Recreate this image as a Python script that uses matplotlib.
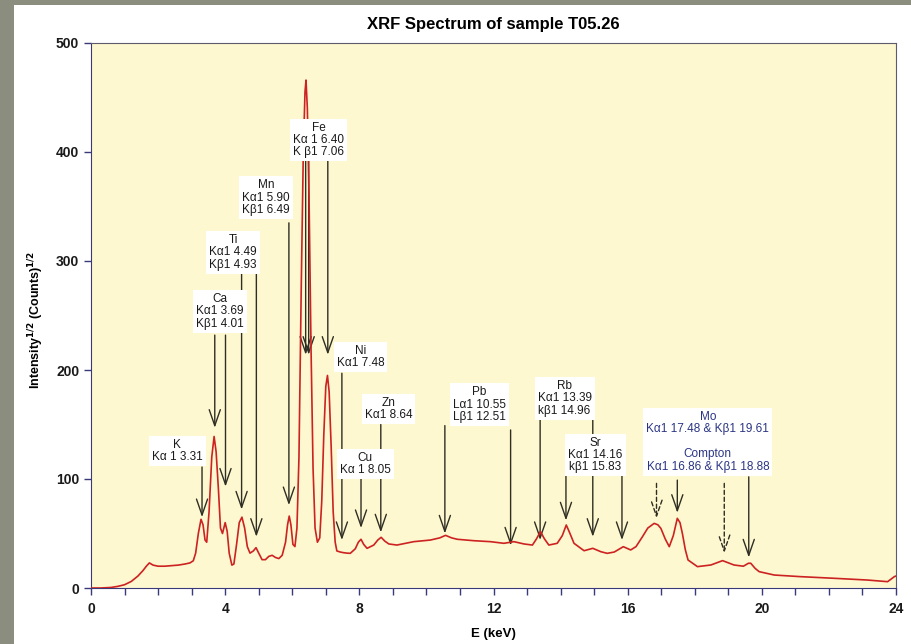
"""
XRF spectrum of sample T05.26 with the identified emission lines marked.
"""

import matplotlib
matplotlib.use("Agg")
import matplotlib.pyplot as plt
from matplotlib.patches import Rectangle


# =========================
# Spectrum (E in keV, sqrt of counts)
# =========================

energy_kev = [
    0.00, 0.30, 0.60, 0.80, 1.00, 1.20, 1.40, 1.55, 1.65, 1.74, 1.85, 2.00,
    2.20, 2.40, 2.60, 2.80, 2.95, 3.05, 3.12, 3.20, 3.28, 3.34, 3.40, 3.45,
    3.52, 3.60, 3.67, 3.73, 3.80, 3.86, 3.92, 4.00, 4.06, 4.12, 4.20, 4.26,
    4.34, 4.42, 4.50, 4.58, 4.66, 4.74, 4.84, 4.92, 5.00, 5.10, 5.20, 5.30,
    5.40, 5.50, 5.60, 5.70, 5.80, 5.86, 5.91, 5.96, 6.02, 6.08, 6.14, 6.20,
    6.27, 6.33, 6.38, 6.41, 6.45, 6.50, 6.56, 6.62, 6.68, 6.75, 6.82, 6.88,
    6.94, 7.00, 7.05, 7.10, 7.16, 7.22, 7.28, 7.33, 7.43, 7.53, 7.63, 7.73,
    7.88, 7.97, 8.05, 8.13, 8.23, 8.43, 8.55, 8.65, 8.76, 8.88, 9.12, 9.62,
    10.12, 10.40, 10.57, 10.75, 10.92, 11.41, 11.91, 12.31, 12.51, 12.61, 12.91, 13.16,
    13.28, 13.40, 13.52, 13.65, 13.90, 14.05, 14.17, 14.28, 14.40, 14.70, 14.96, 15.20,
    15.39, 15.60, 15.87, 16.09, 16.25, 16.44, 16.60, 16.79, 16.90, 16.99, 17.12, 17.24,
    17.36, 17.48, 17.56, 17.63, 17.72, 17.80, 18.08, 18.48, 18.83, 19.17, 19.45, 19.60,
    19.67, 19.80, 19.92, 20.37, 21.16, 22.16, 23.15, 23.75, 23.95, 24.00,
]

intensity = [
    0.0, 0.0, 0.5, 1.5, 3.0, 6.0, 11.0, 16.0, 20.0, 23.0, 21.0, 20.0,
    20.0, 20.5, 21.0, 22.0, 23.0, 25.0, 32.0, 50.0, 63.0, 58.0, 44.0, 42.0,
    70.0, 120.0, 139.0, 125.0, 90.0, 55.0, 50.0, 60.0, 52.0, 32.0, 21.0, 22.0,
    40.0, 60.0, 65.0, 55.0, 38.0, 32.0, 34.0, 37.0, 32.0, 26.0, 26.0, 29.0,
    30.0, 28.0, 27.0, 30.0, 42.0, 58.0, 66.0, 58.0, 40.0, 38.0, 55.0, 120.0,
    280.0, 400.0, 455.0, 466.0, 440.0, 360.0, 220.0, 110.0, 55.0, 42.0, 46.0, 80.0,
    140.0, 185.0, 195.0, 180.0, 130.0, 70.0, 42.0, 34.0, 33.0, 32.4, 32.0, 31.8,
    36.0, 42.0, 44.7, 40.0, 36.4, 39.4, 44.0, 46.5, 43.0, 40.4, 39.4, 42.5,
    44.0, 46.0, 48.3, 46.0, 44.7, 43.4, 42.5, 41.0, 42.0, 42.5, 40.4, 39.4,
    45.0, 51.7, 45.0, 39.4, 41.0, 48.0, 57.8, 50.0, 41.0, 34.2, 36.4, 33.3,
    31.8, 33.0, 37.9, 34.9, 38.0, 47.0, 55.0, 59.3, 58.0, 54.7, 45.0, 37.9,
    48.0, 63.9, 60.0, 50.2, 35.0, 25.7, 19.6, 21.1, 25.1, 21.1, 20.0, 22.7,
    22.7, 18.0, 15.0, 11.9, 10.4, 8.9, 7.3, 5.8, 10.4, 11.0,
]

# =========================
# Line labels: text, box centre (keV, intensity), text colour
# =========================

label_texts = [
    "K\nKα 1 3.31",
    "Ca\nKα1 3.69\nKβ1 4.01",
    "Ti\nKα1 4.49\nKβ1 4.93",
    "Mn\nKα1 5.90\nKβ1 6.49",
    "Fe\nKα 1 6.40\nK β1 7.06",
    "Ni\nKα1 7.48",
    "Zn\nKα1 8.64",
    "Cu\nKα 1 8.05",
    "Pb\nLα1 10.55\nLβ1 12.51",
    "Rb\nKα1 13.39\nkβ1 14.96",
    "Sr\nKα1 14.16\nkβ1 15.83",
    "Mo\nKα1 17.48 & Kβ1 19.61\n\nCompton\nKα1 16.86 & Kβ1 18.88",
]
label_x = [2.57, 3.85, 4.24, 5.22, 6.78, 8.03, 8.87, 8.18, 11.58, 14.12, 15.04, 18.39]
label_y = [125.7, 254, 308, 358, 411, 212, 164, 114, 168, 174, 122, 134]
label_colors = ["#1a1a1a"] * 11 + ["#2b3584"]

# =========================
# Arrows: line energy (keV), top of shaft, tip, dashed or not
# =========================

arrow_energy = [3.31, 3.69, 4.01, 4.49, 4.93, 5.90, 6.40, 6.49, 7.06, 7.48, 8.05,
                8.64, 10.55, 12.51, 13.39, 14.96, 14.16, 15.83, 17.48, 19.61,
                16.86, 18.88]
arrow_top = [111, 232, 232, 288, 288, 335, 393, 393, 393, 197, 101,
             150, 149, 145, 156, 156, 105, 105, 99, 102,
             96, 96]
arrow_tip = [65, 147, 93, 72, 47, 76, 214, 214, 214, 44, 55,
             51, 50, 39, 44, 47, 62, 44, 69, 28,
             64, 32]
arrow_dashed = [False] * 20 + [True, True]


def main():
    plt.rcParams["font.family"] = ["Liberation Sans", "DejaVu Sans"]

    fig = plt.figure(figsize=(9.11, 6.44), dpi=100)
    fig.patch.set_facecolor("white")

    # stone-grey frame around the page
    fig.patches.append(Rectangle((0, 0), 14 / 911, 1, transform=fig.transFigure,
                                 facecolor="#8b8d7f", edgecolor="none", zorder=0))
    fig.patches.append(Rectangle((0, 1 - 5 / 644), 1, 5 / 644, transform=fig.transFigure,
                                 facecolor="#8b8d7f", edgecolor="none", zorder=0))

    ax = fig.add_axes([91 / 911, 56 / 644, 805 / 911, 545 / 644])
    ax.set_facecolor("#fdf8cf")

    ax.plot(energy_kev, intensity, color="#cc2222", lw=1.2, zorder=3)

    for e, top, tip, dashed in zip(arrow_energy, arrow_top, arrow_tip, arrow_dashed):
        ax.annotate(
            "", xy=(e, tip), xytext=(e, top),
            arrowprops=dict(arrowstyle="->,head_length=1.15,head_width=0.4",
                            color="#2e2e24", lw=1.0,
                            linestyle=(0, (3, 2)) if dashed else "-",
                            shrinkA=0, shrinkB=0),
            zorder=2,
        )

    for txt, x, y, c in zip(label_texts, label_x, label_y, label_colors):
        ax.text(x, y, txt, ha="center", va="center", fontsize=8.5, color=c,
                linespacing=1.05, zorder=4,
                bbox=dict(boxstyle="square,pad=0.25", facecolor="white",
                          edgecolor="none"))

    ax.set_xlim(0, 24)
    ax.set_ylim(0, 500)
    ax.set_xticks(range(0, 25, 4))
    ax.set_xticks(range(0, 25), minor=True)
    ax.set_yticks(range(0, 501, 100))
    ax.tick_params(axis="both", which="both", direction="out", length=5,
                   width=1, color="#3a3a7a", labelsize=10, labelcolor="#1a1a1a")
    ax.tick_params(axis="x", pad=5)
    for lab in ax.get_xticklabels() + ax.get_yticklabels():
        lab.set_fontweight("bold")

    ax.spines["left"].set_color("#3a3a7a")
    ax.spines["bottom"].set_color("#3a3a7a")
    ax.spines["top"].set_color("#5c5c6e")
    ax.spines["right"].set_color("#5c5c6e")

    ax.set_xlabel("E (keV)", fontsize=9.5, fontweight="bold", labelpad=9)
    fig.text(36 / 911, 0.503, r"Intensity$^{\mathbf{1/2}}$ (Counts)$^{\mathbf{1/2}}$",
             rotation=90, ha="center", va="center", fontsize=9, fontweight="bold")
    ax.set_title("XRF Spectrum of sample T05.26", fontsize=12,
                 fontweight="bold", pad=10)

    fig.savefig("out.png", dpi=100)
    plt.close(fig)


if __name__ == "__main__":
    main()
